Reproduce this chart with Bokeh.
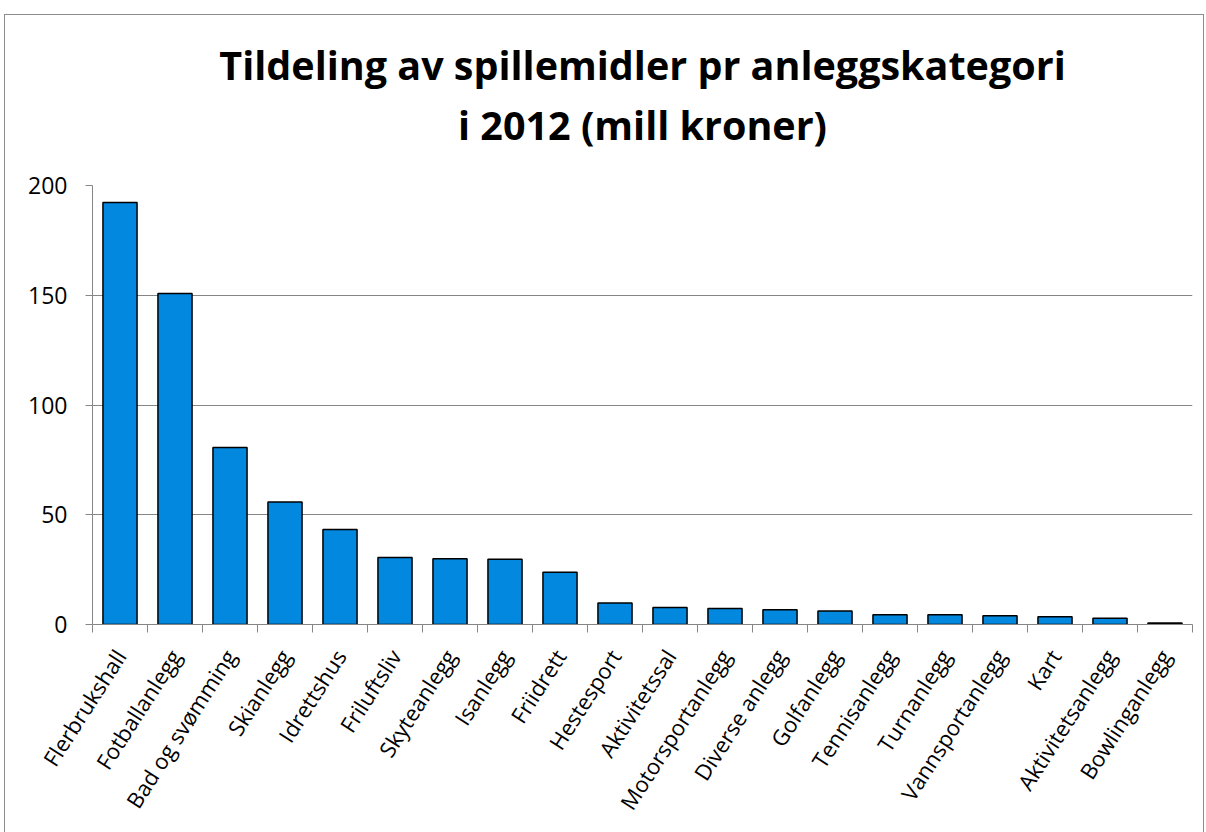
from bokeh.plotting import figure
from bokeh.models import (Range1d, LinearAxis, FixedTicker, ColumnDataSource, Title,
                          CustomJSTickFormatter)
from bokeh.embed import file_html
from bokeh.resources import INLINE

title_lines = ["Tildeling av spillemidler pr anleggskategori", "i 2012 (mill kroner)"]
categories = ["Flerbrukshall", "Fotballanlegg", "Bad og svømming", "Skianlegg", "Idrettshus",
              "Friluftsliv", "Skyteanlegg", "Isanlegg", "Friidrett", "Hestesport",
              "Aktivitetssal", "Motorsportanlegg", "Diverse anlegg", "Golfanlegg", "Tennisanlegg",
              "Turnanlegg", "Vannsportanlegg", "Kart", "Aktivitetsanlegg", "Bowlinganlegg"]
values = [192.3, 150.8, 80.6, 55.8, 43.3, 30.5, 30.0, 29.7, 23.8, 9.8,
          7.7, 7.3, 6.7, 6.1, 4.4, 4.4, 4.0, 3.5, 2.9, 0.7]
y_ticks = [0, 50, 100, 150, 200]

GRID = "#868686"
BAR = "#0289DF"
FONT = "Open Sans"

n = len(categories)
centers = [i + 0.5 for i in range(n)]

p = figure(x_range=Range1d(0, n), y_range=Range1d(0, 200), width=1206, height=832,
           output_backend="svg", toolbar_location=None, x_axis_location=None,
           min_border_left=92, min_border_right=14, min_border_top=185, min_border_bottom=208,
           background_fill_color="white", border_fill_color=None)
p.title = None
p.outline_line_color = None
p.styles = {"box-shadow": "inset 4px 0 0 #ffffff, inset 0 14px 0 #ffffff, inset -2px 0 0 #ffffff, "
                          "inset 5px 0 0 #8c8c8c, inset 0 15px 0 #8c8c8c, inset -3px 0 0 #8c8c8c"}

src = ColumnDataSource(dict(x=centers, val=values, cat=categories))
p.vbar(x="x", top="val", width=0.62, source=src, fill_color=BAR,
       line_color="black", line_width=1.5)

# y axis
p.yaxis.ticker = FixedTicker(ticks=y_ticks)
p.yaxis.axis_line_color = GRID
p.yaxis.major_tick_line_color = GRID
p.yaxis.major_tick_out = 7
p.yaxis.major_tick_in = 0
p.yaxis.minor_tick_line_color = None
p.yaxis.major_label_standoff = 18
p.yaxis.major_label_text_font = FONT
p.yaxis.major_label_text_font_size = "23px"
p.yaxis.major_label_text_color = "black"
p.ygrid.ticker = FixedTicker(ticks=y_ticks)
p.ygrid.grid_line_color = GRID
p.ygrid.grid_line_width = 1
p.xgrid.grid_line_color = None

# boundary ticks between categories
tick_axis = LinearAxis(ticker=FixedTicker(ticks=list(range(n + 1))),
                       formatter=CustomJSTickFormatter(code="return ''"))
tick_axis.axis_line_color = GRID
tick_axis.major_tick_line_color = GRID
tick_axis.major_tick_out = 8
tick_axis.major_tick_in = 0
tick_axis.minor_tick_line_color = None
tick_axis.major_label_standoff = 0
tick_axis.major_label_text_font_size = "1px"
p.add_layout(tick_axis, "below")

# category labels at bar centres
cat_axis = LinearAxis(ticker=FixedTicker(ticks=centers),
                      formatter=CustomJSTickFormatter(args=dict(cats=categories),
                                                      code="return cats[Math.floor(tick)]"))
cat_axis.axis_line_color = None
cat_axis.major_tick_line_color = None
cat_axis.minor_tick_line_color = None
cat_axis.major_label_orientation = 1.0
cat_axis.major_label_standoff = 13
cat_axis.major_label_text_font = FONT
cat_axis.major_label_text_font_size = "22px"
cat_axis.major_label_text_color = "black"
p.add_layout(cat_axis, "below")

# spacer between plot and title, then title lines (inner first)
p.add_layout(Title(text=" ", align="center", standoff=14, text_font=FONT,
                   text_font_size="10px"), "above")
p.add_layout(Title(text=title_lines[1], align="center", standoff=8, text_font=FONT,
                   text_font_style="bold", text_font_size="39.5px", text_color="black"), "above")
p.add_layout(Title(text=title_lines[0], align="center", standoff=0, text_font=FONT,
                   text_font_style="bold", text_font_size="39.5px", text_color="black"), "above")

open("out.html", "w").write(file_html(p, INLINE))
